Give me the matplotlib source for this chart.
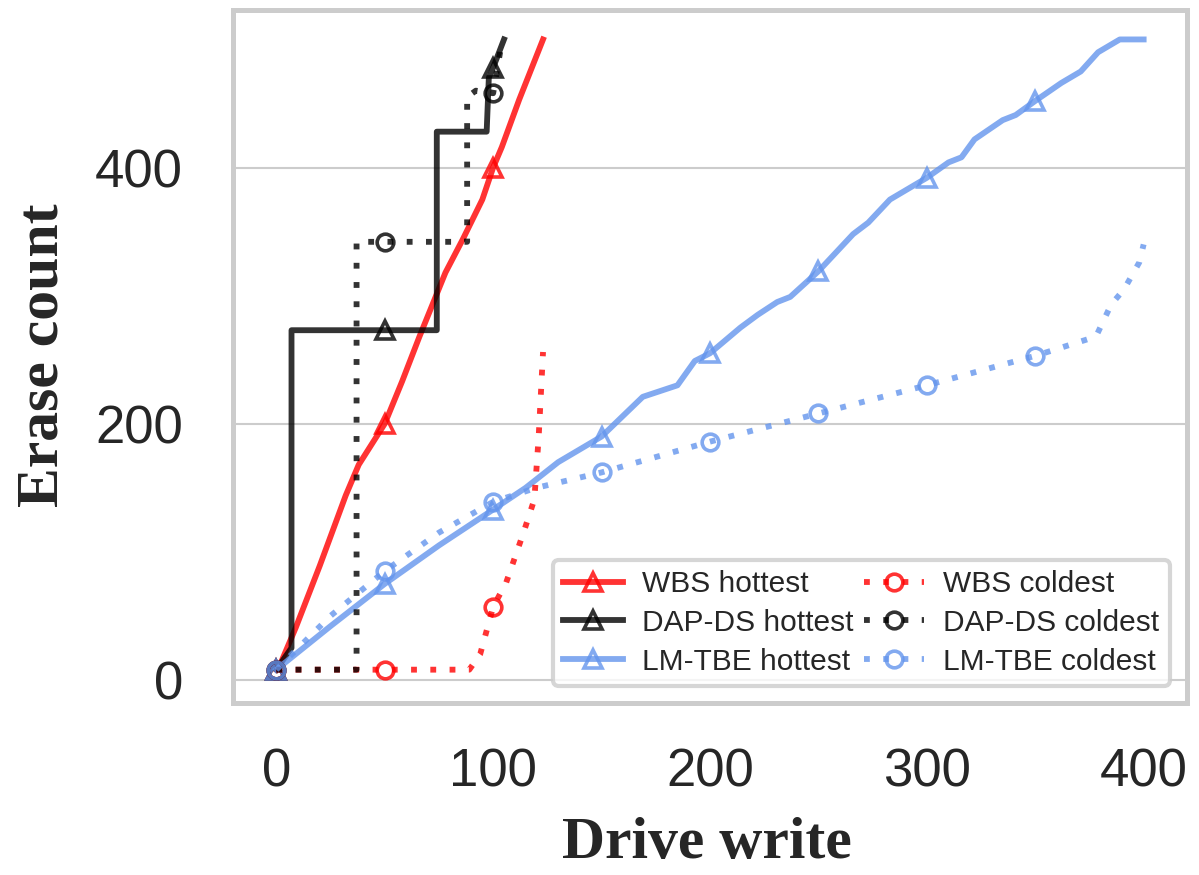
import numpy as np
import matplotlib.pyplot as plt

# series
wbs_hot_x = [0, 2, 9, 20, 32, 38, 50, 58, 66, 78, 86, 95, 100, 104, 112, 123]
wbs_hot_y = [8, 13, 41, 89, 144, 168, 200, 233, 268, 318, 344, 375, 400, 416, 453, 500]
wbs_cold_x = [0, 50, 89, 94, 100, 106, 114, 119, 121, 123]
wbs_cold_y = [8, 8, 8, 20, 57, 76, 115, 141, 190, 256]

dap_hot_x = [0, 7, 7, 50, 74, 74, 97, 98, 100, 105]
dap_hot_y = [8, 25, 273, 273, 273, 428, 428, 470, 478, 500]
dap_cold_x = [0, 37, 37, 50, 88, 88, 92, 100, 104]
dap_cold_y = [8, 8, 342, 342, 342, 455, 460, 458, 498]

lm_hot_x = [0, 25, 50, 75, 100, 115, 130, 150, 169, 185, 193, 200, 214, 222, 231, 237, 250,
            266, 273, 283, 300, 310, 316, 322, 335, 341, 350, 362, 371, 379, 389, 400]
lm_hot_y = [8, 42, 75, 105, 133, 150, 170, 190, 221, 230, 249, 255, 275, 285, 295, 299, 319,
            348, 357, 375, 392, 404, 408, 422, 437, 441, 452, 466, 475, 490, 500, 500]
lm_cold_x = [0, 25, 50, 75, 100, 120, 150, 200, 250, 300, 350, 378, 385, 391, 398, 400]
lm_cold_y = [8, 50, 85, 115, 139, 150, 162, 186, 208, 230, 253, 268, 293, 305, 326, 340]

mark_at = [0, 50, 100, 150, 200, 250, 300, 350]

red = '#ff0000'
black = '#000000'
blue = '#6495ed'

fig = plt.figure(figsize=(11.99, 8.75), dpi=100)
ax = fig.add_axes([0.1943, 0.1966, 0.7957, 0.792])

def draw(x, y, color, ls, marker, label):
    x = np.array(x)
    idx = [int(np.where(x == m)[0][0]) for m in mark_at if m in x]
    kw = dict(color=color, lw=4.2, alpha=0.8, marker=marker, markevery=idx,
              markersize=13 if marker == '^' else 12, mfc='none', mew=2.6, label=label)
    if ls == 'dot':
        kw['dashes'] = (1, 2.3)
    ax.plot(x, y, **kw)

draw(wbs_hot_x, wbs_hot_y, red, 'solid', '^', 'WBS hottest')
draw(dap_hot_x, dap_hot_y, black, 'solid', '^', 'DAP-DS hottest')
draw(lm_hot_x, lm_hot_y, blue, 'solid', '^', 'LM-TBE hottest')
draw(wbs_cold_x, wbs_cold_y, red, 'dot', 'o', 'WBS coldest')
draw(dap_cold_x, dap_cold_y, black, 'dot', 'o', 'DAP-DS coldest')
draw(lm_cold_x, lm_cold_y, blue, 'dot', 'o', 'LM-TBE coldest')

ax.set_xlim(-20, 420)
ax.set_ylim(-18, 523)
ax.set_xticks([0, 100, 200, 300, 400])
ax.set_yticks([0, 200, 400])
ax.yaxis.grid(True, color='#cccccc', lw=1.5)
ax.set_axisbelow(True)
for s in ax.spines.values():
    s.set_color('#cccccc')
    s.set_linewidth(3.6)
ax.tick_params(length=0, labelsize=38, labelcolor='#262626')
ax.tick_params(axis='x', pad=32)
ax.tick_params(axis='y', pad=36)
for t in ax.get_xticklabels() + ax.get_yticklabels():
    t.set_family('Liberation Sans')

ax.set_xlabel('Drive write', fontsize=43, fontweight='bold', family='Liberation Serif', color='#262626')
ax.set_ylabel('Erase count', fontsize=43, fontweight='bold', family='Liberation Serif', color='#262626')
ax.xaxis.set_label_coords(0.497, -0.165)
ax.yaxis.set_label_coords(-0.17, 0.502)

leg = ax.legend(ncol=2, loc='lower right', bbox_to_anchor=(0.982, 0.0245), borderaxespad=0,
                prop={'family': 'Liberation Sans', 'size': 21.5},
                handlelength=2.0, handletextpad=0.65, columnspacing=0.35, labelspacing=0.36,
                frameon=True, fancybox=True, borderpad=0.35)
leg.get_frame().set_edgecolor('#cccccc')
leg.get_frame().set_linewidth(3)
for t in leg.get_texts():
    t.set_color('#262626')

fig.savefig('out.png', dpi=100)
